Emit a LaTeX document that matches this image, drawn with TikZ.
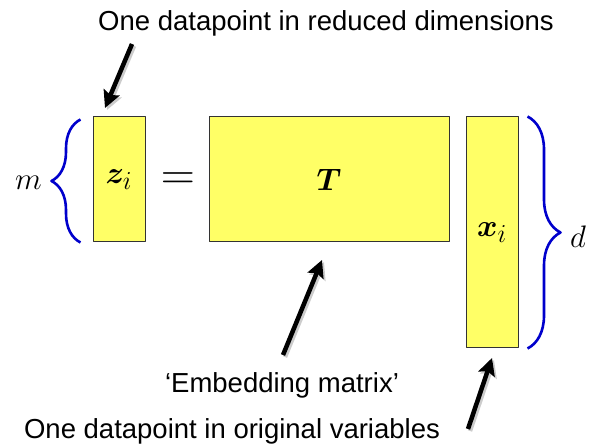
\documentclass[tikz,border=0pt]{standalone}
\usepackage{bm}
\usepackage{fontspec}
\setmainfont{Liberation Sans}
\usetikzlibrary{arrows.meta,decorations.pathreplacing}
\definecolor{braceblue}{RGB}{0,0,204}
\definecolor{boxyellow}{RGB}{255,255,102}
\newcommand{\bigmath}[2][1.25]{\scalebox{#1}{\Huge$#2$}}
\begin{document}
\begin{tikzpicture}[x=1pt, y=1pt, line join=round,
		vec/.style={draw=black!80, fill=boxyellow, line width=1pt, inner sep=0pt},
		sym/.style={inner sep=0pt},
		lbl/.style={inner sep=0pt, anchor=base, font=\fontsize{27.5}{33}\selectfont},
		pointer/.style={line width=4.5pt, -{Stealth[length=17pt,width=17pt,inset=3pt]}},
		ghost/.style={pointer, black!20, transform canvas={shift={(2pt,-2pt)}}},
		curly/.style={draw=braceblue, line width=2.6pt, decorate, decoration={brace, amplitude=#1}}]
	\useasboundingbox (0,0) rectangle (589,446);
	% vectors and matrix
	\node[vec, minimum width=52pt, minimum height=125pt] (z) at (119,266.5) {\bigmath{\bm{z}_i}};
	\node[vec, minimum width=240pt, minimum height=125pt] (T) at (329,266.5) {\bigmath{\bm{T}}};
	\node[vec, minimum width=52pt, minimum height=231pt] (x) at (492,213.5) {\bigmath{\bm{x}_i}};
	\node[sym] (eq) at (178,265) {\bigmath[1.9]{=}};
	% dimensions
	\draw[curly=29pt] ([xshift=-12pt]z.south west) -- ([xshift=-12pt, yshift=-3pt]z.north west);
	\draw[curly=33pt] ([xshift=9pt]x.north east) -- ([xshift=9pt]x.south east);
	\node[sym] (m) at (28.5,263) {\bigmath{m}};
	\node[sym] (d) at (578,209) {\bigmath{d}};
	% captions
	\node[lbl] (top) at (326,415) {One datapoint in reduced dimensions};
	\node[lbl] (emb) at (282,53) {`Embedding matrix'};
	\node[lbl] (orig) at (232,7) {One datapoint in original variables};
	\coordinate (t1) at (132,402); \coordinate (h1) at (105,338);
	\coordinate (t2) at (283,91);  \coordinate (h2) at (322,186);
	\coordinate (t3) at (468,17);  \coordinate (h3) at (492,88);
	\foreach \a/\b in {t1/h1, t2/h2, t3/h3} {
		\draw[ghost] (\a) -- (\b);
		\draw[pointer] (\a) -- (\b);
	}
\end{tikzpicture}
\end{document}
